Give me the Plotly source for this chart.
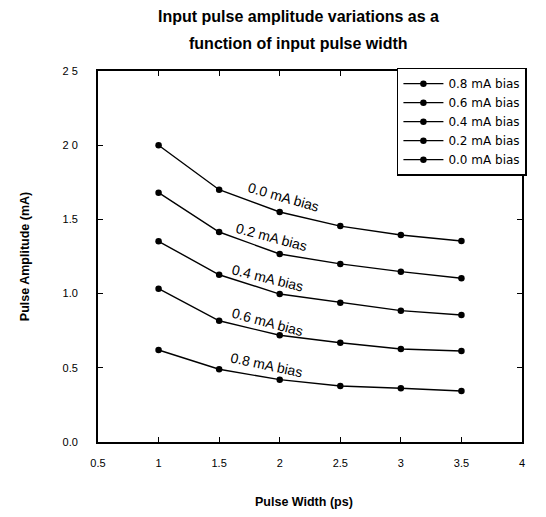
import plotly.graph_objects as go

pulse_width = [1, 1.5, 2, 2.5, 3, 3.5]
bias_labels = ["0.8 mA bias", "0.6 mA bias", "0.4 mA bias", "0.2 mA bias", "0.0 mA bias"]
amp_08 = [0.62, 0.49, 0.42, 0.377, 0.362, 0.344]
amp_06 = [1.033, 0.817, 0.719, 0.669, 0.627, 0.613]
amp_04 = [1.352, 1.127, 0.997, 0.939, 0.885, 0.856]
amp_02 = [1.68, 1.415, 1.267, 1.20, 1.148, 1.103]
amp_00 = [2.0, 1.70, 1.55, 1.455, 1.395, 1.354]
series = [amp_08, amp_06, amp_04, amp_02, amp_00]

# inline label positions (data coords) and angles
label_x = [1.895, 1.90, 1.90, 1.93, 2.03]
label_y = [0.519, 0.809, 1.105, 1.381, 1.651]
label_angle = [12, 15, 14, 15, 16]

x_ticks = [0.5, 1, 1.5, 2, 2.5, 3, 3.5, 4]
x_ticktext = ["0.5", "1", "1.5", "2", "2.5", "3", "3.5", "4"]
y_ticks = [0, 0.5, 1.0, 1.5, 2.0, 2.5]
y_ticktext = ["0.0", "0.5", "1.0", "1.5", "2 0", "2 5"]

title_lines = ["Input pulse amplitude variations as a", "function of input pulse width"]
x_title = "Pulse Width (ps)"
y_title = "Pulse Amplitude (mA)"

fig = go.Figure()
for name, vals in zip(bias_labels, series):
    fig.add_trace(go.Scatter(
        x=pulse_width, y=vals, mode="lines+markers", name=name,
        line=dict(color="black", width=1.4),
        marker=dict(color="black", size=6.5, symbol="circle"),
    ))

for name, lx, ly, ang in zip(bias_labels, label_x, label_y, label_angle):
    fig.add_annotation(x=lx, y=ly, text=name, showarrow=False, textangle=ang,
                       font=dict(family="Arial, Liberation Sans", size=14, color="black"))

narrow = "Liberation Sans Narrow, Arial Narrow, Arial"
for line, ty in zip(title_lines, [1.146, 1.075]):
    fig.add_annotation(xref="paper", yref="paper", x=0.472, y=ty, xanchor="center", yanchor="middle",
                       text="<b>" + line + "</b>", showarrow=False,
                       font=dict(family=narrow, size=16, color="black"))

fig.add_annotation(xref="paper", yref="paper", x=0.486, y=-0.162, xanchor="center", yanchor="middle",
                   text="<b>" + x_title + "</b>", showarrow=False,
                   font=dict(family=narrow, size=12.5, color="black"))

fig.update_layout(
    width=538, height=509,
    margin=dict(l=90, r=24, t=63, b=75),
    paper_bgcolor="white", plot_bgcolor="white",
    showlegend=True,
    legend=dict(x=0.705, y=1.009, xanchor="left", yanchor="top",
                bgcolor="white", bordercolor="black", borderwidth=1.5,
                font=dict(family="DejaVu Sans", size=12, color="black"),
                itemwidth=40, tracegroupgap=0),
    xaxis=dict(range=[0.5, 4], tickmode="array", tickvals=x_ticks, ticktext=x_ticktext,
               showgrid=False, zeroline=False, showline=True, linecolor="black", linewidth=1.5,
               mirror="ticks", ticks="inside", ticklen=5, tickcolor="black",
               ticklabelstandoff=10,
               tickfont=dict(family="Arial, Liberation Sans", size=11, color="black")),
    yaxis=dict(range=[0, 2.5], tickmode="array", tickvals=y_ticks, ticktext=y_ticktext,
               showgrid=False, zeroline=False, showline=True, linecolor="black", linewidth=1.8,
               mirror="ticks", ticks="inside", ticklen=5, tickcolor="black",
               ticklabelstandoff=16,
               tickfont=dict(family="Arial, Liberation Sans", size=11, color="black"),
               title=dict(text="<b>" + y_title + "</b>", standoff=30,
                          font=dict(family=narrow, size=12.5, color="black"))),
)

fig.write_html("out.html")
